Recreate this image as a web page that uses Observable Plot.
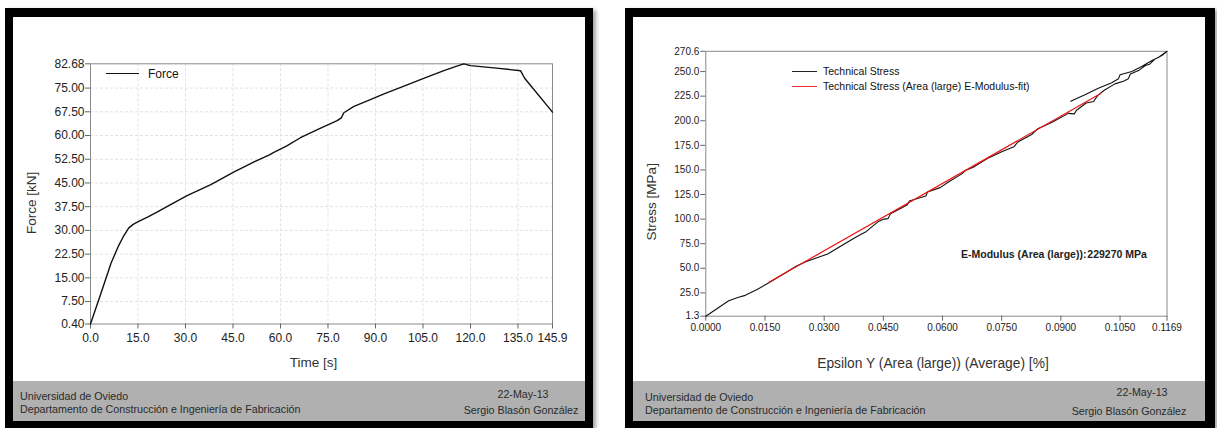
<!DOCTYPE html>
<html>
<head>
<meta charset="utf-8">
<script src="https://cdn.jsdelivr.net/npm/d3@7"></script>
<script src="https://cdn.jsdelivr.net/npm/@observablehq/plot@0.6"></script>
<style>
  html, body { margin: 0; padding: 0; background: #fff; }
  body { font-family: "Liberation Sans", Arial, sans-serif; }
  #page { position: relative; width: 1217px; height: 428px; overflow: hidden; }
  .frame { position: absolute; background: #000; box-shadow: 3px 2px 4px rgba(0,0,0,0.35); }
  .inner { position: absolute; background: #fff; }
  .footer { position: absolute; background: #b0b0b0; }
  .abs { position: absolute; white-space: nowrap; }
  .ft { font-size: 10.7px; color: #2a2a2a; line-height: 12px; height: 12px; }
  .c { text-align: center; width: 240px; }
  .plot { position: absolute; }
  .plot svg { display: block; overflow: visible; }
  .legline { position: absolute; height: 0; }
  .leg { font-size: 12px; color: #111; line-height: 14px; }
</style>
</head>
<body>
<div id="page">
  <!-- left panel -->
  <div class="frame" style="left:5px; top:8px; width:588px; height:420px;"></div>
  <div class="inner" style="left:13px; top:17px; width:572px; height:364px;"></div>
  <div class="footer" style="left:13px; top:381px; width:572px; height:40px;"></div>
  <div id="plotA" class="plot" style="left:13px; top:17px;"></div>
  <div class="legline" style="left:106px; top:73px; width:33px; border-top:1.6px solid #111;"></div>
  <div class="abs leg" style="left:148px; top:66.5px;">Force</div>
  <div class="abs ft" style="left:20px; top:389.7px;">Universidad de Oviedo</div>
  <div class="abs ft" style="left:20px; top:402.7px;">Departamento de Construcción e Ingeniería de Fabricación</div>
  <div class="abs ft c" style="left:403px; top:388px;">22-May-13</div>
  <div class="abs ft c" style="left:401px; top:404px;">Sergio Blasón González</div>

  <!-- right panel -->
  <div class="frame" style="left:625px; top:8px; width:590px; height:420px;"></div>
  <div class="inner" style="left:633px; top:17px; width:572px; height:364px;"></div>
  <div class="footer" style="left:633px; top:381px; width:572px; height:40px;"></div>
  <div id="plotB" class="plot" style="left:633px; top:17px;"></div>
  <div class="legline" style="left:792px; top:70.5px; width:25px; border-top:1.5px solid #222;"></div>
  <div class="legline" style="left:792px; top:85.5px; width:25px; border-top:1.5px solid #f03030;"></div>
  <div class="abs leg" style="left:823px; top:64px; font-size:10.5px;">Technical Stress</div>
  <div class="abs leg" style="left:823px; top:79px; font-size:10.5px;">Technical Stress (Area (large) E-Modulus-fit)</div>
  <div class="abs leg" style="left:961px; top:246.5px; font-size:10.5px; font-weight:bold; color:#222;">E-Modulus (Area (large)):&#8202;229270 MPa</div>
  <div class="abs ft" style="left:645px; top:391px;">Universidad de Oviedo</div>
  <div class="abs ft" style="left:645px; top:404px;">Departamento de Construcción e Ingeniería de Fabricación</div>
  <div class="abs ft c" style="left:1022px; top:386px;">22-May-13</div>
  <div class="abs ft c" style="left:1009px; top:404.7px;">Sergio Blasón González</div>
</div>

<script>
// ---------- Left chart data: Force vs Time ----------
const timeS = [0, 1.5, 3.2, 5, 6.5, 8.9, 10.5, 12.1, 13.5, 14.75, 18, 21, 25, 30.5, 38, 45.2, 52, 56.5, 57.9, 62, 66.3, 72, 77.9, 79.2, 80.0, 83.2, 88, 92.7, 100, 105, 111.6, 115, 117.9, 120, 127.4, 135.8, 137.1, 145.9];
const forceKN = [0.4, 4.8, 9.8, 15.2, 19.7, 25.2, 28.3, 30.8, 31.9, 32.6, 34.2, 35.75, 38, 41, 44.5, 48.4, 51.8, 53.9, 54.7, 56.7, 59.3, 62, 64.7, 65.6, 67.2, 69.2, 71.2, 73.2, 76, 78, 80.5, 81.7, 82.68, 82.1, 81.4, 80.5, 78.1, 67.4];
const timeTicks = [0, 15, 30, 45, 60, 75, 90, 105, 120, 135, 145.9];
const forceTicks = [0.40, 7.5, 15, 22.5, 30, 37.5, 45, 52.5, 60, 67.5, 75, 82.68];

// ---------- Right chart data: Stress vs Epsilon ----------
const epsTech = [0, 0.0058, 0.0083, 0.0100, 0.0130, 0.0161, 0.0200, 0.0230, 0.0255, 0.0280, 0.0309, 0.0348, 0.0380, 0.0407, 0.0437, 0.0452, 0.0462, 0.0468, 0.0490, 0.0511, 0.0516, 0.0545, 0.0558, 0.0562, 0.0594, 0.0614, 0.0649, 0.0658, 0.0678, 0.0698, 0.0718, 0.0750, 0.0781, 0.0791, 0.0826, 0.0841, 0.0860, 0.0880, 0.0919, 0.0934, 0.0939, 0.0964, 0.0983, 0.0993, 0.1010, 0.1037, 0.1060, 0.1071, 0.1076, 0.1097, 0.1114, 0.1125, 0.1139, 0.1156, 0.1169, 0.1148, 0.1131, 0.1106, 0.1080, 0.1050, 0.1046, 0.1029, 0.0995, 0.0961, 0.0925];
const stressTech = [1.3, 17.0, 20.6, 22.5, 28.5, 35.5, 45.0, 52.3, 57.0, 60.5, 64.5, 74.0, 81.5, 87.5, 97.5, 100.0, 100.5, 105.4, 110.0, 114.5, 118.5, 122.0, 123.5, 127.5, 132.0, 137.5, 146.0, 149.4, 152.8, 157.8, 162.5, 168.5, 173.5, 178.5, 186.0, 191.8, 195.2, 199.0, 207.5, 207.0, 210.4, 218.0, 219.5, 225.5, 231.0, 237.5, 240.5, 242.6, 247.5, 251.0, 256.2, 257.5, 262.9, 266.3, 270.6, 264.6, 261.2, 255.4, 250.1, 246.7, 242.6, 238.6, 233.1, 226.4, 219.9];
const epsFit = [0.0160, 0.1001];
const stressFit = [35.9, 227.7];
const epsTicks = [0, 0.015, 0.03, 0.045, 0.06, 0.075, 0.09, 0.105, 0.1169];
const stressTicks = [1.3, 25, 50, 75, 100, 125, 150, 175, 200, 225, 250, 270.6];

const forceData = timeS.map((t, i) => ({t, f: forceKN[i]}));
const techData = epsTech.map((e, i) => ({e, s: stressTech[i]}));
const fitData = epsFit.map((e, i) => ({e, s: stressFit[i]}));

const font = "'Liberation Sans', Arial, sans-serif";

const plotA = Plot.plot({
  width: 572, height: 364,
  marginLeft: 77, marginRight: 33, marginTop: 46.3, marginBottom: 57.5,
  x: {domain: [0, 145.9]},
  y: {domain: [0.40, 82.68]},
  style: {fontFamily: font, fontSize: "12px", color: "#222", background: "transparent"},
  marks: [
    Plot.gridX(timeTicks.slice(1, -1), {stroke: "#e2e2e2", strokeOpacity: 1, strokeDasharray: "3,2"}),
    Plot.gridY(forceTicks.slice(1, -1), {stroke: "#e2e2e2", strokeOpacity: 1, strokeDasharray: "3,2"}),
    Plot.frame({stroke: "#8a8a8a"}),
    Plot.axisX(timeTicks, {tickSize: 5, tickPadding: 4, tickFormat: d3.format(".1f"), label: null, stroke: "#666", fill: "#222"}),
    Plot.axisY(forceTicks, {tickSize: 5, tickPadding: 1, tickFormat: d3.format(".2f"), label: null, stroke: "#666", fill: "#222"}),
    Plot.line(forceData, {x: "t", y: "f", stroke: "#111", strokeWidth: 1.4}),
    Plot.text(["Time [s]"], {frameAnchor: "bottom", textAnchor: "middle", lineAnchor: "middle", dx: -8, dy: 39, fontSize: 13.5, fill: "#333"}),
    Plot.text(["Force [kN]"], {frameAnchor: "left", textAnchor: "middle", lineAnchor: "middle", rotate: -90, dx: -59, dy: 9, fontSize: 13.5, fill: "#333"})
  ]
});
document.getElementById("plotA").appendChild(plotA);

const plotB = Plot.plot({
  width: 572, height: 364,
  marginLeft: 72.3, marginRight: 38.5, marginTop: 33.8, marginBottom: 65.3,
  x: {domain: [0, 0.1169]},
  y: {domain: [1.3, 270.6]},
  style: {fontFamily: font, fontSize: "10px", color: "#222", background: "transparent"},
  marks: [
    Plot.frame({stroke: "#8a8a8a"}),
    Plot.axisX(epsTicks, {tickSize: 5, tickPadding: 3, tickFormat: d3.format(".4f"), label: null, stroke: "#666", fill: "#222"}),
    Plot.axisY(stressTicks, {tickSize: 5, tickPadding: 1.5, tickFormat: d3.format(".1f"), label: null, stroke: "#666", fill: "#222"}),
    Plot.line(techData, {x: "e", y: "s", stroke: "#111", strokeWidth: 1.1}),
    Plot.line(fitData, {x: "e", y: "s", stroke: "#ee1111", strokeWidth: 1.2}),
    Plot.text(["Epsilon Y (Area (large)) (Average) [%]"], {frameAnchor: "bottom", textAnchor: "middle", lineAnchor: "middle", dx: -3.4, dy: 47, fontSize: 13.8, fill: "#333"}),
    Plot.text(["Stress [MPa]"], {frameAnchor: "left", textAnchor: "middle", lineAnchor: "middle", rotate: -90, dx: -54, dy: 18, fontSize: 13.5, fill: "#333"})
  ]
});
document.getElementById("plotB").appendChild(plotB);
</script>
</body>
</html>
